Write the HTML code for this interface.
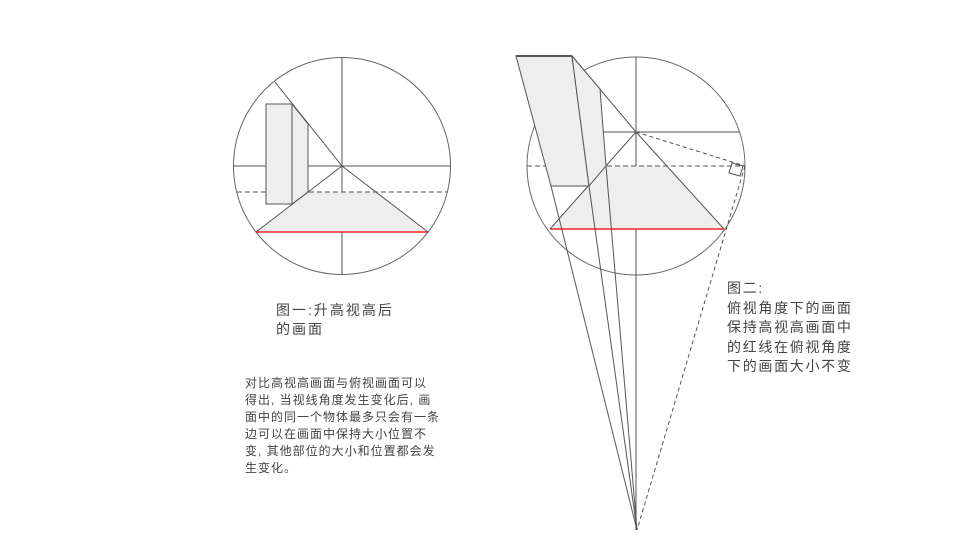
<!DOCTYPE html>
<html><head><meta charset="utf-8"><style>
body{margin:0;width:960px;height:540px;background:#fff;overflow:hidden;position:relative;font-family:"Liberation Sans","Noto Sans CJK SC",sans-serif;color:#444}
.t{position:absolute;white-space:nowrap}
</style></head><body>
<svg width="960" height="540" style="position:absolute;left:0;top:0" fill="none" stroke="#555" stroke-width="1">
<!-- figure 1 -->
<circle cx="342" cy="166" r="108.5" stroke="#666"/>
<polygon points="308,192 376,192 428,232 256,232" fill="#eee" stroke="none"/>
<line x1="342" y1="58" x2="342" y2="192"/>
<line x1="342" y1="232" x2="342" y2="275"/>
<line x1="233" y1="166" x2="266" y2="166"/>
<line x1="308" y1="166" x2="451" y2="166"/>
<line x1="275" y1="82" x2="342" y2="166"/>
<line x1="342" y1="166" x2="428" y2="232"/>
<line x1="342" y1="166" x2="256" y2="232"/>
<line x1="237" y1="192" x2="447" y2="192" stroke-dasharray="5,3"/>
<rect x="266" y="104" width="26" height="100" fill="#eee"/>
<polygon points="292,104 308,124 308,192 292,204" fill="#eee"/>
<line x1="256" y1="232" x2="428" y2="232" stroke="#e00" stroke-width="1.3"/>
<!-- figure 2 -->
<circle cx="636" cy="166" r="109" stroke="#666"/>
<polygon points="606,166 666,166 724,229 550,229" fill="#eee" stroke="none"/>
<line x1="636" y1="57" x2="636" y2="166"/>
<line x1="636" y1="229" x2="636" y2="530"/>
<line x1="603" y1="132" x2="740" y2="132"/>
<line x1="527" y1="166" x2="745" y2="166" stroke-dasharray="5,3"/>
<line x1="572" y1="56" x2="636" y2="132"/>
<line x1="636" y1="132" x2="724" y2="229"/>
<line x1="636" y1="132" x2="550" y2="229"/>
<line x1="636" y1="132" x2="745" y2="166" stroke-dasharray="4,3"/>
<line x1="745" y1="166" x2="637" y2="530" stroke-dasharray="4,3"/>
<polygon points="732,163 743,166 740,176 729,173"/>
<polygon points="516,56 572,56 589,186 551,186" fill="#eee"/>
<polygon points="572,56 600,89 606,166 589,186" fill="#eee"/>
<line x1="516" y1="56" x2="572" y2="56" stroke-width="2"/>
<line x1="551" y1="186" x2="637" y2="530"/>
<line x1="589" y1="186" x2="637" y2="530"/>
<line x1="606" y1="166" x2="637" y2="530"/>
<line x1="550" y1="229" x2="724" y2="229" stroke="#e00" stroke-width="1.3"/>
</svg>
<div class="t" style="left:276px;top:301px;font-size:14px;line-height:19px;letter-spacing:2px">图一:升高视高后<br>的画面</div>
<div class="t" style="left:245px;top:375px;font-size:12px;line-height:17px;letter-spacing:1px">对比高视高画面与俯视画面可以<br>得出, 当视线角度发生变化后, 画<br>面中的同一个物体最多只会有一条<br>边可以在画面中保持大小位置不<br>变, 其他部位的大小和位置都会发<br>生变化。</div>
<div class="t" style="left:727px;top:279px;font-size:14px;line-height:19.5px;letter-spacing:1.7px">图二:<br>俯视角度下的画面<br>保持高视高画面中<br>的红线在俯视角度<br>下的画面大小不变</div>
</body></html>
